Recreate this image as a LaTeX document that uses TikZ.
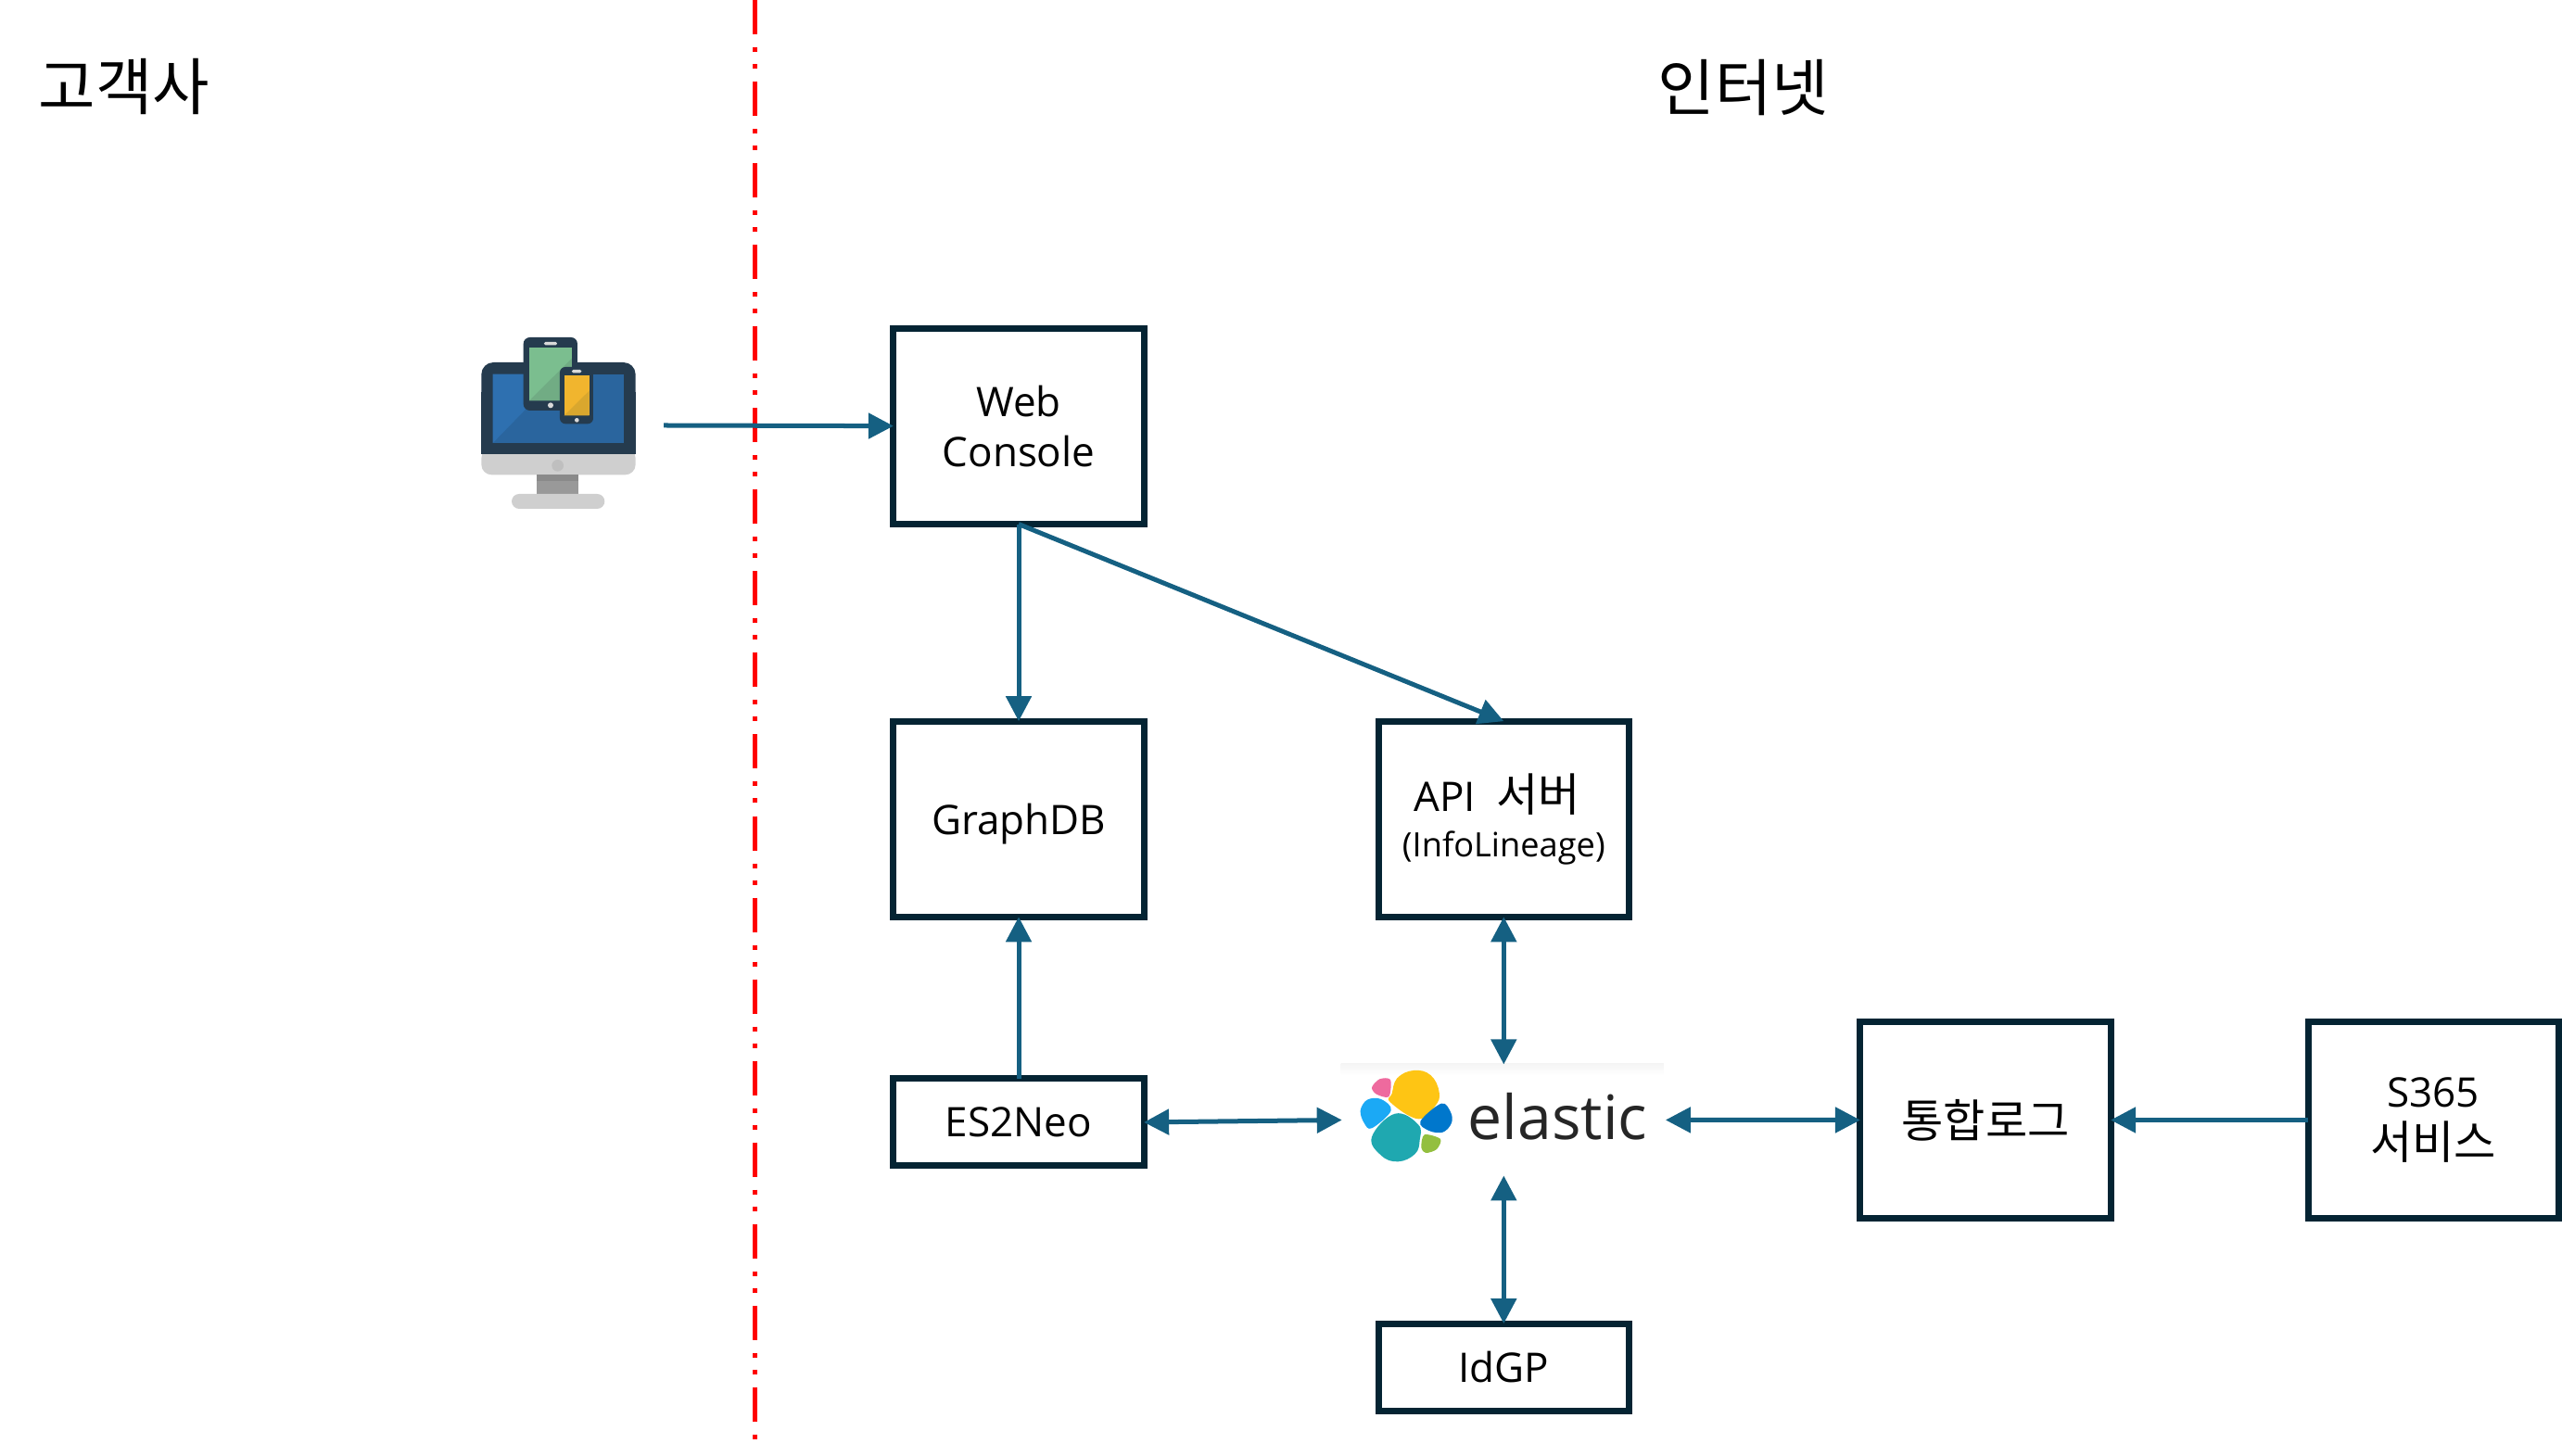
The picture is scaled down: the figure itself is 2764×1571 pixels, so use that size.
\documentclass[tikz,border=0pt]{standalone}
\usepackage{fontspec}
\setmainfont{Open Sans}
\newfontfamily\kr{Noto Sans CJK KR}
\usepackage{xcolor}
\usetikzlibrary{arrows.meta,positioning}

\definecolor{boxline}{HTML}{042433}
\definecolor{connline}{HTML}{156082}
\definecolor{monbody}{HTML}{253B4E}
\definecolor{monscreen}{HTML}{2A659E}
\definecolor{monlight}{HTML}{2E70B0}
\definecolor{mongray}{HTML}{CFCFCF}
\definecolor{tabgreen}{HTML}{7BBE8F}
\definecolor{tabdark}{HTML}{71AC84}
\definecolor{phonegold}{HTML}{F1B52E}
\definecolor{phonedark}{HTML}{D9A72E}
\definecolor{logoyellow}{HTML}{FEC514}
\definecolor{logopink}{HTML}{EE6A9E}
\definecolor{logosky}{HTML}{1BA9F5}
\definecolor{logoteal}{HTML}{1FA8B0}
\definecolor{logoblue}{HTML}{0077CC}
\definecolor{logogreen}{HTML}{93BF3F}

\tikzset{
  boxnode/.style={draw=boxline,line width=0.07cm,fill=white,minimum width=2.70cm,
    outer sep=0pt,inner sep=0pt,align=center,text=black,font=\fontsize{12.5}{15.3}\selectfont},
  tallbox/.style={boxnode,minimum height=2.11cm},
  lowbox/.style={boxnode,minimum height=0.94cm},
  titlenode/.style={font=\fontsize{19}{22}\selectfont\kr,inner sep=0pt},
  conn/.style={draw=connline,line width=0.05cm,-{Triangle[length=0.27cm,width=0.27cm]}},
  bothconn/.style={conn,{Triangle[length=0.27cm,width=0.27cm]}-{Triangle[length=0.27cm,width=0.27cm]}},
}
\newcommand{\krbig}{\fontsize{14}{15.3}\selectfont\kr}

\begin{document}
\begin{tikzpicture}[x=0.01cm,y=-0.01cm,node distance=1cm,on grid]
   \useasboundingbox (0,0) rectangle (2764,1571);

   \coordinate (bordertop) at (814,0);
   \coordinate (borderbottom) at (814,1560);
   \draw[red,line width=0.05cm,dash pattern=on 0.37cm off 0.14cm on 0.05cm off 0.13cm on 0.05cm off 0.14cm] (bordertop) -- (borderbottom);

   \node[titlenode] (customer) at (134,93) {고객사};
   \node[titlenode] (internet) at (1881,95) {인터넷};

   \node[tallbox] (web) at (1099,460) {Web\\Console};
   \node[tallbox,text depth=0pt] (graphdb) [below=4.235cm of web] {GraphDB};
   \node[tallbox] (api) [right=5.23cm of graphdb] {API~ {\krbig 서버}\hspace*{4pt}\\[-1.5pt]{\fontsize{10.3}{12}\selectfont (InfoLineage)}};
   \node[lowbox] (es2neo) [below=3.27cm of graphdb] {ES2Neo};
   \node[minimum width=3.49cm,minimum height=1.2cm,outer sep=0pt,inner sep=0pt] (elastic) [right=5.23cm of es2neo,yshift=0.025cm] {};
   \node[lowbox] (idgp) [below=5.91cm of api] {IdGP};
   \node[tallbox] (tonghap) at (2142,1208.5) {\krbig 통합로그};
   \node[tallbox] (s365) [right=4.83cm of tonghap] {S365\\[0.5pt]{\krbig 서비스}};

   \coordinate (devices) at (716,459);

   % monitor and two handhelds
   \begin{scope}[shift={(480,340)},scale=0.3333]
      \fill[monbody,rounded corners=0.13cm] (118,300) -- (118,153) -- (617,153) -- (617,300) -- cycle;
      \fill[monbody] (118,250) rectangle (617,451);
      \fill[mongray,rounded corners=0.11cm] (118,430) -- (118,517) -- (617,517) -- (617,430) -- cycle;
      \fill[monbody] (118,420) rectangle (617,451);
      \fill[monscreen] (155,191) rectangle (580,414);
      \fill[monlight] (155,191) -- (372,191) -- (155,414) -- cycle;
      \fill[black!25] (365,487) circle (19);
      \fill[black!40] (297,517) rectangle (433,580);
      \fill[black!46] (297,517) rectangle (433,537);
      \fill[mongray,rounded corners=0.08cm] (216,579) rectangle (517,627);
      \fill[monbody,rounded corners=0.07cm] (254,72) rectangle (429,309);
      \fill[tabgreen] (273,105) rectangle (411,277);
      \fill[tabdark] (411,140) -- (411,277) -- (273,277) -- cycle;
      \fill[black!15,rounded corners=0.015cm] (321,87) rectangle (363,97);
      \fill[black!15] (342,292) circle (9);
      \fill[monbody,rounded corners=0.06cm] (372,168) rectangle (480,352);
      \fill[phonegold] (386,196) rectangle (467,325);
      \fill[phonedark] (467,245) -- (467,325) -- (386,325) -- cycle;
      \fill[black!15,rounded corners=0.015cm] (411,177) rectangle (442,187);
      \fill[black!15] (427,340) circle (7);
   \end{scope}

   % elastic logo
   \begin{scope}[shift={(1420,1130)},scale=0.3333]
      \shade[top color=black!4,bottom color=white] (80,54) rectangle (1125,90);
      \fill[logoyellow] plot[smooth cycle,tension=0.7] coordinates {(245,150) (262,100) (315,75) (370,90) (398,145) (385,190) (330,232) (240,178)};
      \fill[logopink] plot[smooth cycle,tension=0.5] coordinates {(180,130) (205,103) (240,105) (235,160) (195,152)};
      \fill[logosky] plot[smooth cycle,tension=0.6] coordinates {(143,205) (165,170) (210,168) (242,205) (180,262) (155,245)};
      \fill[logoteal] plot[smooth cycle,tension=0.7] coordinates {(180,290) (255,215) (330,250) (335,300) (320,345) (265,370) (210,350)};
      \fill[logoblue] plot[smooth cycle,tension=0.6] coordinates {(337,240) (405,182) (435,210) (438,245) (410,275) (365,270)};
      \fill[logogreen] plot[smooth cycle,tension=0.5] coordinates {(350,283) (402,297) (390,330) (355,342) (340,325)};
   \end{scope}
   \node[anchor=base west,inner sep=0pt,text=black!85,font=\fontsize{18.8}{20}\selectfont] (elasticname) at (1583,1229) {elastic};

   \draw[conn] (devices) -- (web);
   \draw[conn] (web.south) -- (graphdb.north);
   \draw[conn] (web.south) -- (api.north);
   \draw[conn] (es2neo.north) -- (graphdb.south);
   \draw[bothconn] (api.south) -- (elastic.north);
   \draw[bothconn] (es2neo.east) -- (elastic.west);
   \draw[bothconn] (elastic.east) -- (tonghap.west);
   \draw[bothconn] (elastic.south) -- (idgp.north);
   \draw[conn] (s365.west) -- (tonghap.east);
\end{tikzpicture}
\end{document}
